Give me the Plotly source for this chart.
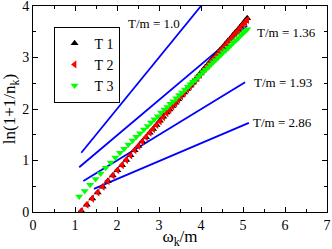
import plotly.graph_objects as go

# Blue reference lines (equilibrium, ln(1+1/n) = omega/T), endpoints
eq_labels = ["T/m = 1.0", "T/m = 1.36", "T/m = 1.93", "T/m = 2.86"]
eq_x = [[1.15, 4.00], [1.10, 5.10], [1.20, 5.05], [1.45, 5.14]]
eq_y = [[1.15, 4.00], [0.87, 3.62], [0.60, 2.52], [0.45, 1.73]]
label_x = [2.88, 6.03, 5.95, 5.94]
label_y = [3.66, 3.48, 2.51, 1.73]

# T 1 (black, mostly hidden under T 2)
t1_x = [1.15, 1.28, 1.41, 1.54, 1.66, 1.78, 1.90, 2.01, 2.12, 2.22, 2.32, 2.42, 2.51, 2.60,
        2.69, 2.78, 2.86, 2.94, 3.02, 3.10, 3.18, 3.25, 3.32, 3.39, 3.46, 3.53, 3.60, 3.67,
        3.74, 3.80, 3.86, 3.92, 3.98, 4.04, 4.10, 4.16, 4.22, 4.28, 4.34, 4.40, 4.46, 4.52,
        4.58, 4.64, 4.70, 4.76, 4.82, 4.88, 4.94, 5.00, 5.05, 5.10]
t1_y = [0.02, 0.14, 0.26, 0.38, 0.49, 0.60, 0.71, 0.81, 0.91, 1.01, 1.10, 1.20, 1.28, 1.37,
        1.45, 1.54, 1.61, 1.69, 1.77, 1.85, 1.93, 1.99, 2.06, 2.12, 2.19, 2.26, 2.32, 2.39,
        2.45, 2.51, 2.57, 2.63, 2.69, 2.75, 2.81, 2.86, 2.92, 2.98, 3.03, 3.09, 3.15, 3.20,
        3.26, 3.32, 3.37, 3.43, 3.49, 3.54, 3.60, 3.66, 3.71, 3.76]

# T 2 (red)
t2_x = [1.15, 1.28, 1.41, 1.54, 1.66, 1.78, 1.90, 2.01, 2.12, 2.22, 2.32, 2.42, 2.51, 2.60,
        2.69, 2.78, 2.86, 2.94, 3.02, 3.10, 3.18, 3.25, 3.32, 3.39, 3.46, 3.53, 3.60, 3.67,
        3.74, 3.80, 3.86, 3.92, 3.98, 4.04, 4.10, 4.16, 4.22, 4.28, 4.34, 4.40, 4.46, 4.52,
        4.58, 4.64, 4.70, 4.76, 4.82, 4.88, 4.94, 5.00, 5.05, 5.10]
t2_y = [0.02, 0.14, 0.26, 0.38, 0.49, 0.60, 0.71, 0.81, 0.91, 1.01, 1.10, 1.20, 1.28, 1.37,
        1.45, 1.54, 1.61, 1.69, 1.76, 1.84, 1.92, 1.98, 2.05, 2.11, 2.18, 2.25, 2.31, 2.38,
        2.44, 2.50, 2.56, 2.61, 2.67, 2.73, 2.79, 2.84, 2.90, 2.96, 3.01, 3.07, 3.13, 3.18,
        3.24, 3.30, 3.35, 3.41, 3.47, 3.52, 3.58, 3.64, 3.68, 3.73]

# T 3 (green)
t3_x = [1.10, 1.23, 1.36, 1.49, 1.61, 1.73, 1.85, 1.96, 2.07, 2.17, 2.27, 2.37, 2.46, 2.55,
        2.64, 2.73, 2.81, 2.89, 2.97, 3.05, 3.13, 3.20, 3.27, 3.34, 3.41, 3.48, 3.55, 3.62,
        3.69, 3.75, 3.81, 3.87, 3.93, 3.99, 4.05, 4.11, 4.17, 4.23, 4.29, 4.35, 4.41, 4.47,
        4.53, 4.59, 4.65, 4.71, 4.77, 4.83, 4.89, 4.95, 5.00, 5.05, 5.10]
t3_y = [0.30, 0.41, 0.53, 0.64, 0.75, 0.86, 0.96, 1.06, 1.15, 1.23, 1.31, 1.39, 1.46, 1.53,
        1.60, 1.67, 1.74, 1.80, 1.86, 1.93, 1.99, 2.04, 2.10, 2.15, 2.21, 2.27, 2.32, 2.38,
        2.43, 2.48, 2.53, 2.57, 2.62, 2.67, 2.72, 2.76, 2.81, 2.86, 2.91, 2.95, 3.00, 3.05,
        3.10, 3.14, 3.19, 3.24, 3.29, 3.33, 3.38, 3.43, 3.47, 3.51, 3.55]

x_ticks = [0, 1, 2, 3, 4, 5, 6, 7]
y_ticks = [0, 1, 2, 3, 4]

FONT = "Liberation Serif, Times New Roman, serif"

fig = go.Figure()
for xs, ys in zip(eq_x, eq_y):
    fig.add_trace(go.Scatter(x=xs, y=ys, mode="lines", showlegend=False,
                             line=dict(color="#0000ff", width=1.8), hoverinfo="skip"))

fig.add_trace(go.Scatter(x=t1_x, y=t1_y, mode="markers", name="T 1",
                         marker=dict(symbol="triangle-up", size=7, color="black")))
fig.add_trace(go.Scatter(x=t2_x, y=t2_y, mode="markers", name="T 2",
                         marker=dict(symbol="triangle-left", size=7, color="#ff0000")))
fig.add_trace(go.Scatter(x=t3_x, y=t3_y, mode="markers", name="T 3",
                         marker=dict(symbol="triangle-down", size=7, color="#00ff00")))

for txt, lx, ly in zip(eq_labels, label_x, label_y):
    fig.add_annotation(x=lx, y=ly, text=txt, showarrow=False,
                       font=dict(family=FONT, size=13, color="black"), xanchor="center")

axis_common = dict(showline=True, linecolor="black", linewidth=1, mirror="allticks",
                   ticks="inside", ticklen=5, tickcolor="black", showgrid=False,
                   zeroline=False, automargin=False, ticklabeloverflow="allow",
                   tickfont=dict(family=FONT, size=14, color="black"))

fig.update_xaxes(range=[0, 7], tickvals=x_ticks, ticktext=[str(v) for v in x_ticks],
                 minor=dict(ticks="inside", ticklen=3, dtick=0.5, tickcolor="black"),
                 title=dict(text="ω<sub>k</sub>/m", font=dict(family=FONT, size=17, color="black"),
                            standoff=0),
                 **axis_common)
fig.update_yaxes(range=[0, 4], tickvals=y_ticks, ticktext=[str(v) for v in y_ticks],
                 minor=dict(ticks="inside", ticklen=3, dtick=0.5, tickcolor="black"),
                 title=dict(text="ln(1+1/n<sub>k</sub>)", font=dict(family=FONT, size=17, color="black"),
                            standoff=2),
                 **axis_common)

fig.update_layout(
    width=332, height=249,
    margin=dict(l=33, r=5, t=6, b=37),
    paper_bgcolor="white", plot_bgcolor="white",
    legend=dict(x=0.07, y=0.9, xanchor="left", yanchor="top",
                bgcolor="white", bordercolor="black", borderwidth=1,
                font=dict(family=FONT, size=14, color="black"),
                itemwidth=30, tracegroupgap=0),
)

fig.write_html("out.html", config={"displayModeBar": False},
               post_script="document.body.style.margin='0';")
